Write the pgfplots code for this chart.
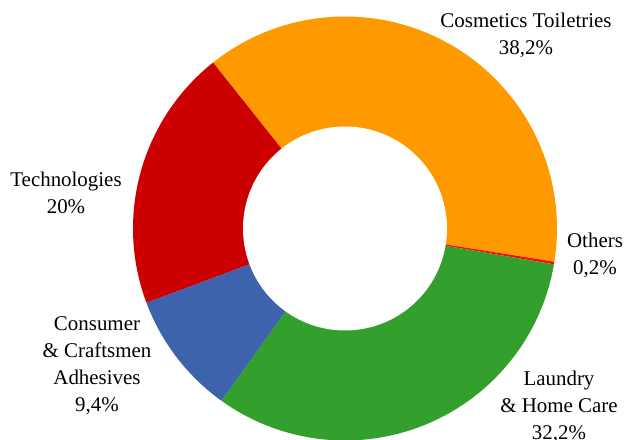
\documentclass[border=0pt]{standalone}
\usepackage{pgfplots}
\pgfplotsset{compat=1.18}
\usepackage{fontspec}
\setmainfont{Liberation Serif}
\definecolor{cOrange}{RGB}{255,153,0}
\definecolor{cOthers}{RGB}{255,10,10}
\definecolor{cGreen}{RGB}{51,160,46}
\definecolor{cBlue}{RGB}{60,99,172}
\definecolor{cRed}{RGB}{204,0,0}
% shares (percent), clockwise from the first slice
\def\vCos{38.2}
\def\vOth{0.2}
\def\vLau{32.2}
\def\vCon{9.4}
\def\vTec{20}
\def\cx{345}
\def\cy{211.5}
\def\rOut{212}
\def\rIn{102}
\pgfmathsetmacro\aA{128.5}
\pgfmathsetmacro\aB{\aA-3.6*\vCos}
\pgfmathsetmacro\aC{\aB-3.6*\vOth}
\pgfmathsetmacro\aD{\aC-3.6*\vLau}
\pgfmathsetmacro\aE{\aD-3.6*\vCon}
\pgfmathsetmacro\aF{\aE-3.6*\vTec}
\begin{document}
\begin{tikzpicture}
\begin{axis}[name=ax, scale only axis, width=628bp, height=440bp,
  xmin=0, xmax=628, ymin=0, ymax=440, hide axis, clip=false]
\addplot[fill=cOrange, draw=none, domain=\aB:\aA, samples=100, variable=\t]
  ({\cx+\rOut*cos(\t)},{\cy+\rOut*sin(\t)}) -- (axis cs:\cx,\cy) -- cycle;
\addplot[fill=cOthers, draw=none, domain=\aC:\aB, samples=3, variable=\t]
  ({\cx+\rOut*cos(\t)},{\cy+\rOut*sin(\t)}) -- (axis cs:\cx,\cy) -- cycle;
\addplot[fill=cGreen, draw=none, domain=\aD:\aC, samples=100, variable=\t]
  ({\cx+\rOut*cos(\t)},{\cy+\rOut*sin(\t)}) -- (axis cs:\cx,\cy) -- cycle;
\addplot[fill=cBlue, draw=none, domain=\aE:\aD, samples=40, variable=\t]
  ({\cx+\rOut*cos(\t)},{\cy+\rOut*sin(\t)}) -- (axis cs:\cx,\cy) -- cycle;
\addplot[fill=cRed, draw=none, domain=\aF:\aE, samples=70, variable=\t]
  ({\cx+\rOut*cos(\t)},{\cy+\rOut*sin(\t)}) -- (axis cs:\cx,\cy) -- cycle;
\addplot[fill=white, draw=none, domain=0:360, samples=180, variable=\t]
  ({\cx+\rIn*cos(\t)},{\cy+\rIn*sin(\t)}) -- cycle;
\begin{scope}[every node/.style={align=center, inner sep=0pt, font=\fontsize{21}{27}\selectfont}]
\node at (axis cs:526,405) {Cosmetics Toiletries\\38,2\%};
\node at (axis cs:595,185) {Others\\0,2\%};
\node at (axis cs:66,247) {Technologies\\20\%};
\node at (axis cs:97,74) {Consumer\\\& Craftsmen\\Adhesives\\9,4\%};
\node at (axis cs:559,33) {Laundry\\\& Home Care\\32,2\%};
\end{scope}
\end{axis}
\pgfresetboundingbox
\path (ax.south west) rectangle (ax.north east);
\end{tikzpicture}
\end{document}
